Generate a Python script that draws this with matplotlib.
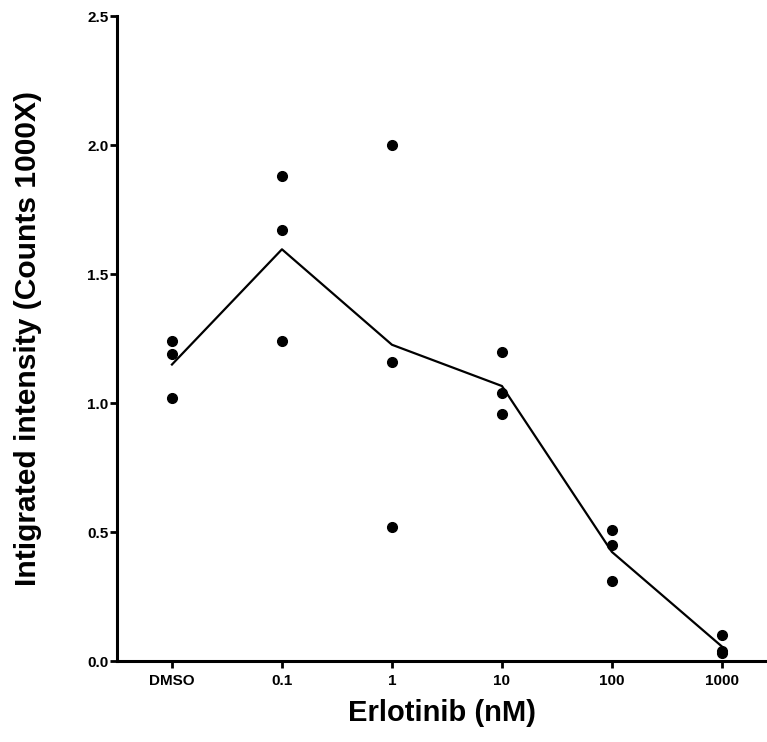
import numpy as np
import matplotlib
matplotlib.use("Agg")
import matplotlib.pyplot as plt

plt.rcParams['font.family'] = ['Liberation Sans', 'DejaVu Sans']

categorias = ['DMSO', '0.1', '1', '10', '100', '1000']
# three replicates per concentration
rep1 = [1.24, 1.88, 2.00, 1.20, 0.51, 0.10]
rep2 = [1.19, 1.67, 1.16, 1.04, 0.45, 0.04]
rep3 = [1.02, 1.24, 0.52, 0.96, 0.31, 0.03]
yticks = [0.0, 0.5, 1.0, 1.5, 2.0, 2.5]

fig = plt.figure(figsize=(7.67, 7.42), dpi=100)
ax = fig.add_axes([0.1525, 0.109, 0.8475, 0.869])

x = np.arange(len(categorias))
valores = np.array([rep1, rep2, rep3])
for rep in valores:
    ax.plot(x, rep, 'o', color='black', markersize=7, zorder=3)
ax.plot(x, valores.mean(axis=0), '-', color='black', linewidth=1.6, zorder=2)

ax.set_xlim(-0.5, 5.41)
ax.set_ylim(0, 2.5)
ax.set_xticks(x)
ax.set_xticklabels(categorias, fontsize=11, fontweight='bold')
ax.set_yticks(yticks)
ax.set_yticklabels([f'{v:.1f}' for v in yticks], fontsize=11, fontweight='bold')

for lado in ['top', 'right']:
    ax.spines[lado].set_visible(False)
for lado in ['left', 'bottom']:
    ax.spines[lado].set_linewidth(2.2)
ax.tick_params(direction='out', length=5, width=2)
ax.tick_params(axis='y', pad=1)
ax.tick_params(axis='x', pad=4)

ax.set_xlabel('Erlotinib (nM)', fontsize=21, fontweight='bold', labelpad=8)
ax.set_ylabel('Intigrated intensity (Counts 1000X)', fontsize=21.6, fontweight='bold', labelpad=33)

fig.savefig('out.png', dpi=100)
